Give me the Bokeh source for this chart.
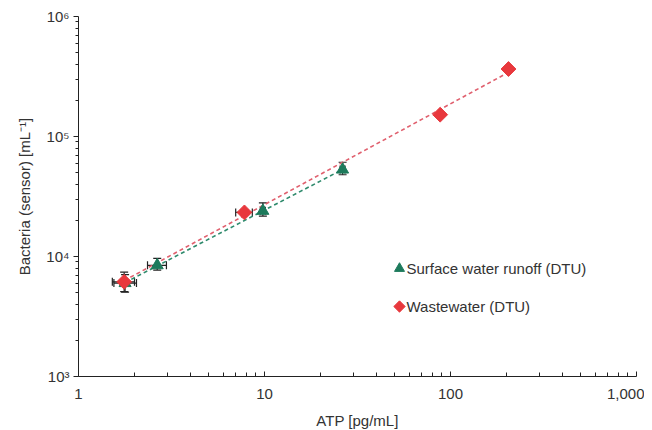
import numpy as np
from bokeh.plotting import figure
from bokeh.models import (FixedTicker, Whisker, TeeHead, ColumnDataSource, Label,
                          Range1d, LinearScale)
from bokeh.embed import file_html
from bokeh.resources import INLINE

# ---- data ----
surf_x = [1.78, 2.65, 9.8, 26.3]
surf_y = [6000, 8450, 24000, 53000]
surf_y_lo = [5050, 7700, 21700, 48000]
surf_y_hi = [7050, 9650, 28000, 61000]
surf_x_lo = [1.55, 2.35, 9.5, 25.5]
surf_x_hi = [2.05, 2.97, 10.1, 27.1]

waste_x = [1.76, 7.8, 88, 205]
waste_y = [6150, 23300, 152000, 365000]
waste_y_lo = [5100, 22200, 146000, 351000]
waste_y_hi = [7400, 24500, 158000, 380000]
waste_x_lo = [1.52, 7.0, 86, 200]
waste_x_hi = [2.0, 8.6, 90, 210]

x_ticks = [1, 10, 100, 1000]
x_tick_labels = ["1", "10", "100", "1,000"]
y_ticks = [1e3, 1e4, 1e5, 1e6]
y_tick_labels = ["10³", "10⁴", "10⁵", "10⁶"]

series_names = ["Surface water runoff (DTU)", "Wastewater (DTU)"]

GREEN = "#1d7a5c"
GREEN_LINE = "#2e8a6c"
RED = "#e8383d"
RED_LINE = "#e0606e"
FONT = "Liberation Sans"
TXT = "#333333"

FW, FH = 558, 360
p = figure(frame_width=FW, frame_height=FH, x_axis_type="log", y_axis_type="log",
           x_range=(1, 1000), y_range=(1e3, 1e6), output_backend="svg",
           toolbar_location=None, min_border_left=78, min_border_right=8,
           min_border_top=16, min_border_bottom=46)
p.outline_line_color = None
p.grid.visible = False
p.background_fill_color = "white"

# pixel-space ranges for the legend keys
p.extra_x_ranges = {"px": Range1d(0, FW)}
p.extra_y_ranges = {"py": Range1d(0, FH)}
p.extra_x_scales = {"px": LinearScale()}
p.extra_y_scales = {"py": LinearScale()}

minor_x = [m * d for d in [1, 10, 100] for m in range(2, 10)]
minor_y = [m * d for d in [1e3, 1e4, 1e5] for m in range(2, 10)]
p.xaxis.ticker = FixedTicker(ticks=x_ticks, minor_ticks=minor_x)
p.yaxis.ticker = FixedTicker(ticks=y_ticks, minor_ticks=minor_y)
p.xaxis.major_label_overrides = {t: l for t, l in zip(x_ticks, x_tick_labels)}
p.yaxis.major_label_overrides = {t: l for t, l in zip(y_ticks, y_tick_labels)}

for ax in (p.xaxis[0], p.yaxis[0]):
    ax.axis_line_color = "#222222"
    ax.major_tick_line_color = "#222222"
    ax.minor_tick_line_color = "#222222"
    ax.major_label_text_font = FONT
    ax.major_label_text_font_size = "15px"
    ax.major_label_text_color = TXT
    ax.axis_label_text_font = FONT
    ax.axis_label_text_font_size = "15px"
    ax.axis_label_text_color = TXT
    ax.axis_label_text_font_style = "normal"

p.xaxis.major_tick_in = 5
p.xaxis.major_tick_out = 0
p.xaxis.minor_tick_in = 4
p.xaxis.minor_tick_out = 0
p.yaxis.major_tick_in = 0
p.yaxis.major_tick_out = 5
p.yaxis.minor_tick_in = 0
p.yaxis.minor_tick_out = 3
p.xaxis.axis_label = "ATP [pg/mL]"
p.yaxis.axis_label = "Bacteria (sensor) [mL⁻¹]"
p.xaxis.major_label_standoff = 12
p.xaxis.axis_label_standoff = 10
p.yaxis.major_label_standoff = 4
p.yaxis.axis_label_standoff = 10


def fit_line(xs, ys):
    lx, ly = np.log10(xs), np.log10(ys)
    k, b = np.polyfit(lx, ly, 1)
    xx = np.array([min(xs), max(xs)])
    return xx, 10 ** (k * np.log10(xx) + b)

gx, gy = fit_line(surf_x, surf_y)
rx, ry = fit_line(waste_x, waste_y)
p.line(gx, gy, line_color=GREEN_LINE, line_width=1.6, line_dash="4 3")
p.line(rx, ry, line_color=RED_LINE, line_width=1.6, line_dash="4 3")


def add_err(xs, ys, ylo, yhi, xlo, xhi):
    src = ColumnDataSource(dict(x=xs, y=ys, ylo=ylo, yhi=yhi, xlo=xlo, xhi=xhi))
    p.add_layout(Whisker(source=src, base="x", lower="ylo", upper="yhi", dimension="height",
                         line_color="#222222", line_width=1.2,
                         upper_head=TeeHead(size=8, line_color="#222222", line_width=1.2),
                         lower_head=TeeHead(size=8, line_color="#222222", line_width=1.2)))
    p.add_layout(Whisker(source=src, base="y", lower="xlo", upper="xhi", dimension="width",
                         line_color="#222222", line_width=1.2,
                         upper_head=TeeHead(size=8, line_color="#222222", line_width=1.2),
                         lower_head=TeeHead(size=8, line_color="#222222", line_width=1.2)))

add_err(surf_x, surf_y, surf_y_lo, surf_y_hi, surf_x_lo, surf_x_hi)
add_err(waste_x, waste_y, waste_y_lo, waste_y_hi, waste_x_lo, waste_x_hi)

TRI = dict(marker="triangle", fill_color=GREEN, line_color=GREEN)
DIA = dict(marker="square", angle=np.pi / 4, fill_color=RED, line_color=RED)
p.scatter(surf_x, surf_y, size=12, **TRI)
p.scatter(waste_x, waste_y, size=10.5, **DIA)

# ---- legend (keys + labels placed in frame pixels) ----
leg_key_x = 321
leg_rows_y = [108, 70]
p.scatter([leg_key_x], [leg_rows_y[0]], x_range_name="px", y_range_name="py", size=10, **TRI)
p.scatter([leg_key_x], [leg_rows_y[1]], x_range_name="px", y_range_name="py", size=8, **DIA)
for name, yy in zip(series_names, leg_rows_y):
    p.add_layout(Label(x=leg_key_x + 7, y=yy, x_range_name="px", y_range_name="py",
                       text=name, text_font=FONT, text_font_size="15px",
                       text_color=TXT, text_baseline="middle", text_align="left"))

open("out.html", "w").write(file_html(p, INLINE))
